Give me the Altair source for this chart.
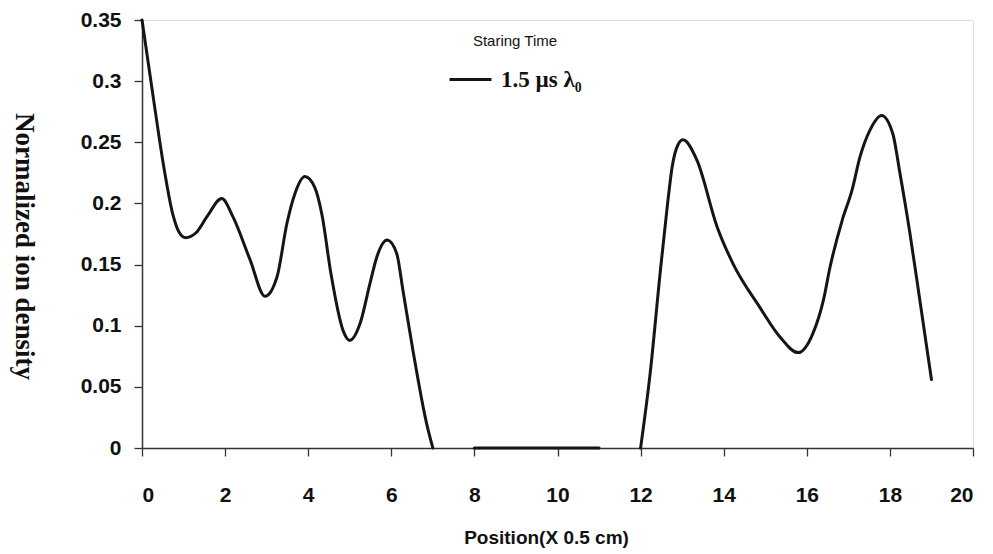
import altair as alt
import pandas as pd

# Ion density profile, three drawn pieces along the position axis
pos_a = [0.0, 0.3, 0.5, 0.75, 0.9, 1.05, 1.3, 1.56, 1.92, 2.19, 2.6, 2.96, 3.25, 3.49,
         3.68, 3.92, 4.16, 4.33, 4.55, 4.84, 5.0, 5.25, 5.49, 5.65, 5.9, 6.13, 6.28,
         6.52, 6.85, 7.0]
dens_a = [0.35, 0.28, 0.235, 0.19, 0.176, 0.172, 0.176, 0.189, 0.204, 0.189, 0.154,
          0.124, 0.14, 0.184, 0.208, 0.222, 0.213, 0.191, 0.142, 0.096, 0.088, 0.102,
          0.135, 0.156, 0.17, 0.159, 0.129, 0.08, 0.02, 0.0]

pos_b = [8.0, 9.0, 10.0, 11.0]
dens_b = [0.0, 0.0, 0.0, 0.0]

pos_c = [12.0, 12.23, 12.47, 12.64, 12.76, 12.9, 13.02, 13.36, 13.84, 14.22, 14.87,
         15.35, 15.79, 16.15, 16.4, 16.56, 16.85, 17.09, 17.28, 17.52, 17.8, 18.07,
         18.24, 18.48, 18.72, 19.0]
dens_c = [0.0, 0.061, 0.143, 0.197, 0.23, 0.248, 0.252, 0.235, 0.181, 0.151, 0.115,
          0.091, 0.078, 0.094, 0.121, 0.148, 0.186, 0.211, 0.238, 0.26, 0.272, 0.257,
          0.225, 0.176, 0.121, 0.056]

series_name = "1.5 µs λ₀"
y_ticks = [0, 0.05, 0.1, 0.15, 0.2, 0.25, 0.3, 0.35]
x_ticks = [0, 2, 4, 6, 8, 10, 12, 14, 16, 18, 20]

rows = []
for seg, xs, ys in (("a", pos_a, dens_a), ("b", pos_b, dens_b), ("c", pos_c, dens_c)):
    for x, y in zip(xs, ys):
        rows.append({"pos": x, "dens": y, "seg": seg, "series": series_name})
df = pd.DataFrame(rows)

tick_font = "Liberation Sans"

chart = (
    alt.Chart(df)
    .mark_line(interpolate="monotone", strokeWidth=3, strokeCap="round", strokeJoin="round")
    .encode(
        x=alt.X(
            "pos:Q",
            scale=alt.Scale(domain=[0, 20], nice=False),
            axis=alt.Axis(
                values=x_ticks,
                title="Position(X 0.5 cm)",
                titleFont=tick_font,
                titleFontSize=19,
                titleFontWeight="bold",
                titleColor="#111",
                titleX=404,
                titleY=89,
                titleBaseline="middle",
                labelFont=tick_font,
                labelFontSize=21,
                labelFontWeight="bold",
                labelColor="#111",
                labelPadding=28,
                tickSize=8,
                tickColor="#333",
                tickWidth=1.3,
                domainColor="#333",
                domainWidth=1.5,
                grid=False,
            ),
        ),
        y=alt.Y(
            "dens:Q",
            scale=alt.Scale(domain=[0, 0.35], nice=False),
            axis=alt.Axis(
                values=y_ticks,
                format=".2~f",
                title="Normalized ion density",
                titleFont="Liberation Serif",
                titleFontSize=27,
                titleFontWeight="bold",
                titleColor="#111",
                titleAngle=90,
                titleAlign="center",
                titleBaseline="middle",
                titleX=-119,
                titleY=226,
                labelFont=tick_font,
                labelFontSize=21,
                labelFontWeight="bold",
                labelColor="#111",
                labelPadding=13,
                tickSize=8,
                tickColor="#333",
                tickWidth=1.3,
                domainColor="#333",
                domainWidth=1.5,
                grid=False,
            ),
        ),
        detail="seg:N",
        color=alt.Color(
            "series:N",
            scale=alt.Scale(domain=[series_name], range=["#151515"]),
            legend=alt.Legend(
                title="Staring Time",
                orient="none",
                legendX=306,
                legendY=14,
                padding=0,
                titleFont=tick_font,
                titleFontSize=15,
                titleFontWeight="normal",
                titleColor="#111",
                titleAnchor="middle",
                titlePadding=8,
                labelFont="Liberation Serif",
                labelFontSize=23,
                labelFontWeight="bold",
                labelColor="#111",
                labelOffset=8,
                symbolType="stroke",
                symbolSize=1764,
                symbolStrokeWidth=3,
            ),
        ),
    )
    .properties(
        width=831,
        height=428,
        padding={"left": 142, "top": 20, "right": 20, "bottom": 106},
        autosize=alt.AutoSizeParams(type="none"),
    )
    .configure_view(stroke="#333", strokeWidth=1.5)
    .configure(background="white")
)

chart.save("out.html", embed_options={"renderer": "svg", "actions": False})
